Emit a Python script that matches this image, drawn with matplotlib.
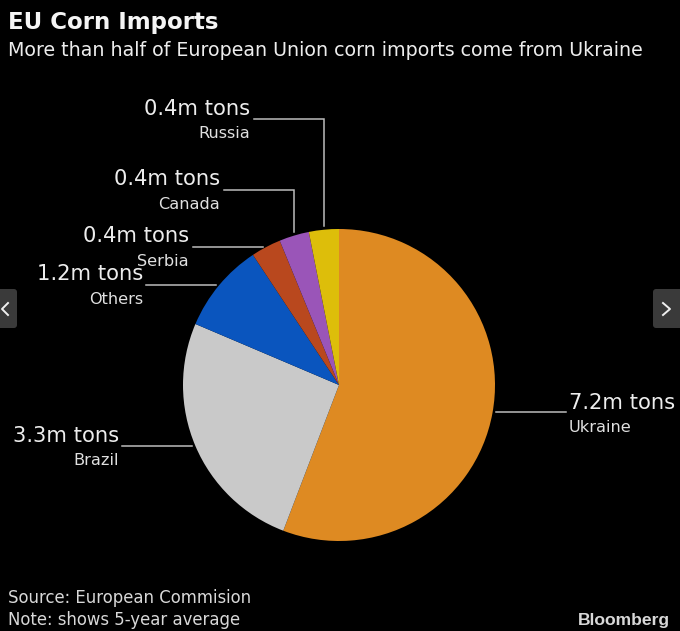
import matplotlib
matplotlib.use("Agg")
import matplotlib.pyplot as plt
from matplotlib.patches import FancyBboxPatch

# pie data, clockwise from 12 o'clock
countries = ["Ukraine", "Brazil", "Others", "Serbia", "Canada", "Russia"]
tons = [7.2, 3.3, 1.2, 0.4, 0.4, 0.4]
colors = ["#DE8A22", "#C9C9C9", "#0A55BE", "#B9481E", "#9A55B8", "#DDBE0A"]

W, H = 680, 631
BG = "#000000"
FG = "#EDEDED"


def flip(y):
    # picture rows run downwards, the axes run upwards
    return H - y


fig = plt.figure(figsize=(W / 100, H / 100), dpi=100, facecolor=BG)
ax = fig.add_axes([0, 0, 1, 1])
ax.set_xlim(0, W)
ax.set_ylim(0, H)
ax.axis("off")

ax.pie(tons, colors=colors, startangle=90, counterclock=False,
       center=(339, flip(385)), radius=156, frame=True)
ax.set_xlim(0, W)
ax.set_ylim(0, H)
ax.axis("off")

# label anchor (x, value baseline y, name baseline y) and leader path
labels = {
    "Ukraine": dict(x=569, y=409, ny=432, ha="left", path=[(496, 412), (566, 412)]),
    "Brazil": dict(x=119, y=442, ny=465, ha="right", path=[(122, 446), (192, 446)]),
    "Others": dict(x=143, y=280, ny=304, ha="right", path=[(146, 285), (216, 285)]),
    "Serbia": dict(x=189, y=242, ny=266, ha="right", path=[(193, 247), (263, 247)]),
    "Canada": dict(x=220, y=185, ny=209, ha="right", path=[(224, 190), (294, 190), (294, 232)]),
    "Russia": dict(x=250, y=115, ny=138, ha="right", path=[(254, 119), (324, 119), (324, 226)]),
}

for name, value in zip(countries, tons):
    lab = labels[name]
    xs = [p[0] for p in lab["path"]]
    ys = [flip(p[1]) for p in lab["path"]]
    ax.plot(xs, ys, color="#BDBDBD", lw=1.1, solid_joinstyle="miter")
    ax.text(lab["x"], flip(lab["y"]), f"{value}m tons", color=FG, fontsize=15.2,
            ha=lab["ha"], va="baseline")
    ax.text(lab["x"], flip(lab["ny"]), name, color="#E0E0E0", fontsize=11.6,
            ha=lab["ha"], va="baseline")

# heading
ax.text(8, flip(29), "EU Corn Imports", color="#F5F5F5", fontsize=16.5,
        fontweight="bold", va="baseline")
ax.text(8, flip(56), "More than half of European Union corn imports come from Ukraine",
        color=FG, fontsize=13.65, va="baseline")

# footer
ax.text(8, flip(603), "Source: European Commision", color="#D8D8D8", fontsize=11.9, va="baseline")
ax.text(8, flip(625), "Note: shows 5-year average", color="#D8D8D8", fontsize=11.9, va="baseline")
ax.text(670, flip(625), "Bloomberg", color="#D8D8D8", fontsize=12.6, fontweight="bold",
        family="Liberation Sans", ha="right", va="baseline")

# gallery arrows from the web page
for x0, x1, tip, back in [(-10, 17, 2, 8), (653, 690, 670, 663)]:
    ax.add_patch(FancyBboxPatch((x0, flip(328)), x1 - x0, 39,
                                boxstyle="round,pad=0,rounding_size=3",
                                fc="#3A3A3A", ec="none", zorder=3, clip_on=True))
    ax.plot([back, tip, back], [flip(303), flip(309), flip(315)],
            color="#F0F0F0", lw=1.4, zorder=4)

fig.savefig("out.png", dpi=100, facecolor=BG)
